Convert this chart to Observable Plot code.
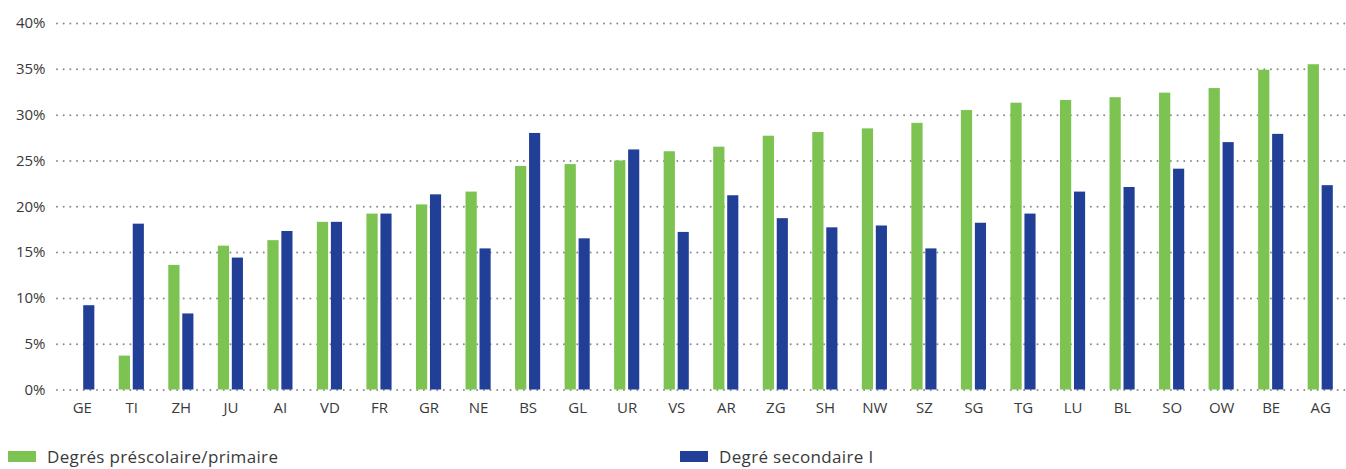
<!DOCTYPE html>
<html><head><meta charset="utf-8">
<script src="https://cdn.jsdelivr.net/npm/d3@7"></script>
<script src="https://cdn.jsdelivr.net/npm/@observablehq/plot@0.6"></script>
<style>
html,body{margin:0;background:#fff;font-family:"Open Sans",sans-serif;overflow:hidden;}
#chart svg{display:block;max-width:none}
.legend{position:relative;height:29px;font-size:17px;letter-spacing:0.35px;color:#3a3a3a;font-family:"Open Sans",sans-serif;overflow:hidden}
.item{position:absolute;top:4px;display:flex;align-items:center;height:25px;white-space:nowrap}
.sw{width:28px;height:11px;margin-right:11px}
</style></head><body><div id="chart"></div><div class="legend" id="legend"></div>
<script>
const cantons = ["GE","TI","ZH","JU","AI","VD","FR","GR","NE","BS","GL","UR","VS","AR","ZG","SH","NW","SZ","SG","TG","LU","BL","SO","OW","BE","AG"];
const prescolaire = [null,3.7,13.6,15.7,16.3,18.3,19.2,20.2,21.6,24.4,24.6,25.0,26.0,26.5,27.7,28.1,28.5,29.1,30.5,31.3,31.6,31.9,32.4,32.9,34.9,35.5];
const secondaire = [9.2,18.1,8.3,14.4,17.3,18.3,19.2,21.3,15.4,28.0,16.5,26.2,17.2,21.2,18.7,17.7,17.9,15.4,18.2,19.2,21.6,22.1,24.1,27.0,27.9,22.3];
const seriesNames = ["Degrés préscolaire/primaire","Degré secondaire I"];
const seriesColors = ["#7dc352","#223f98"];
const yTicks = [0,5,10,15,20,25,30,35,40];

const rowsA = cantons.map((c,i)=>({canton:c, serie:seriesNames[0], value:prescolaire[i]})).filter(d=>d.value!=null);
const rowsB = cantons.map((c,i)=>({canton:c, serie:seriesNames[1], value:secondaire[i]}));

const chart = Plot.plot({
  width: 1346,
  height: 440,
  marginTop: 23,
  marginBottom: 50.5,
  marginLeft: 57,
  marginRight: 1,
  style: {fontFamily: '"Open Sans", sans-serif', fontSize: "15px", color: "#3a3a3a", background: "#fff", maxWidth: "none"},
  x: {domain: cantons, padding: 0, round: false, label: null, tickSize: 0, tickPadding: 12},
  y: {domain: [0,40], ticks: yTicks, tickFormat: d => d + "%", label: null, tickSize: 0, tickPadding: 12},
  color: {domain: seriesNames, range: seriesColors},
  marks: [
    Plot.gridY(yTicks, {stroke: "#8a8a8a", strokeOpacity: 1, strokeWidth: 2, strokeDasharray: "0,6.67", strokeLinecap: "round"}),
    Plot.barY(rowsA, {x: "canton", y: "value", fill: "serie", insetLeft: 12.2, insetRight: 26.1}),
    Plot.barY(rowsB, {x: "canton", y: "value", fill: "serie", insetLeft: 26.2, insetRight: 12.2})
  ]
});
document.getElementById("chart").append(chart);

const legend = document.getElementById("legend");
const lefts = [8, 680];
seriesNames.forEach((n,i)=>{
  const it = document.createElement("div");
  it.className = "item";
  it.style.left = lefts[i] + "px";
  const sw = document.createElement("span");
  sw.className = "sw";
  sw.style.background = seriesColors[i];
  const tx = document.createElement("span");
  tx.textContent = n;
  it.append(sw, tx);
  legend.append(it);
});
</script>
</body></html>
